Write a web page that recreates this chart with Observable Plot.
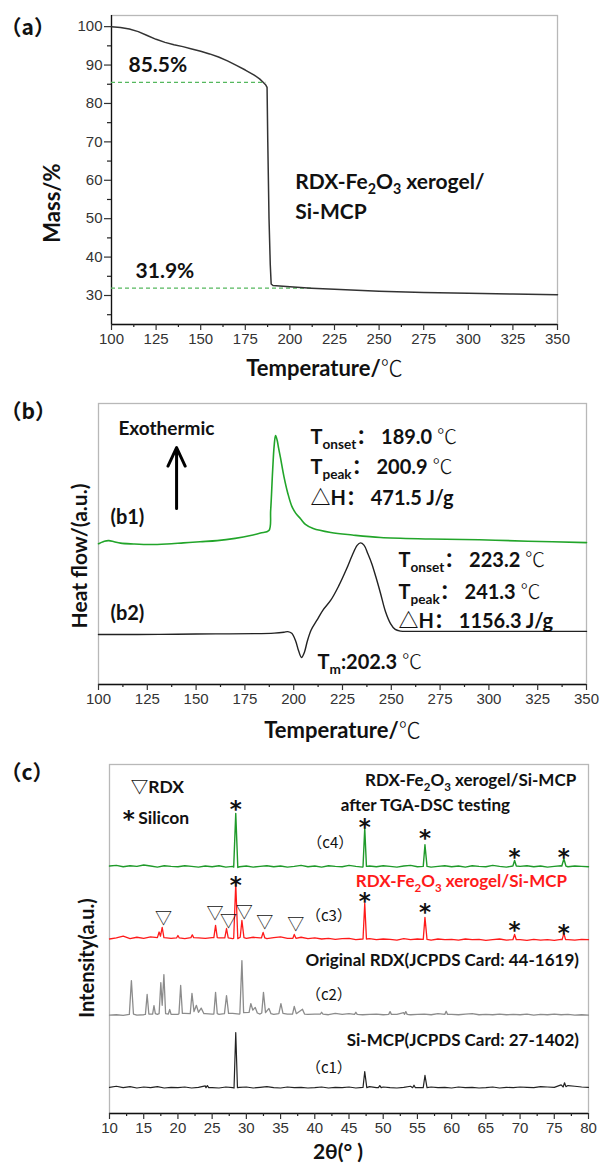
<!DOCTYPE html>
<html><head><meta charset="utf-8">
<script src="https://cdn.jsdelivr.net/npm/d3@7"></script>
<script src="https://cdn.jsdelivr.net/npm/@observablehq/plot@0.6"></script>
<style>
body{margin:0;background:#fff;}
#wrap{position:relative;width:601px;height:1165px;overflow:hidden;}
</style></head><body><div id="wrap"></div>
<script>
// ---------- shared ticks ----------
const tempTicks = [100,125,150,175,200,225,250,275,300,325,350];
const tempMinor = [112.5,137.5,162.5,187.5,212.5,237.5,262.5,287.5,312.5,337.5];
const massTicks = [30,40,50,60,70,80,90,100];
const massMinor = [25,35,45,55,65,75,85,95];
const thetaTicks = [10,15,20,25,30,35,40,45,50,55,60,65,70,75,80];
const thetaMinor = [12.5,17.5,22.5,27.5,32.5,37.5,42.5,47.5,52.5,57.5,62.5,67.5,72.5,77.5];

// ---------- panel (a) TGA ----------
const tgaT = [100,105,110,115,120,125,130,135,140,145,150,155,160,165,170,175,180,183,185,186.5,187.2,187.6,188.3,189.0,189.5,190.5,200,212,225,250,275,300,325,350];
const tgaMass = [100,99.8,99.4,98.7,97.7,96.7,95.9,95.3,94.8,94.2,93.6,92.9,92.1,91.1,89.9,88.7,87.4,86.4,85.5,84.8,84.2,70,50,38,33.0,32.6,32.3,31.9,31.6,31.1,30.8,30.6,30.4,30.2];
const dashLevels = [85.5, 31.9];
const dashEnds = [186.5, 212];
const dashLabelT = [109.5, 113.5];
const dashLabelM = [89.9, 36.2];
const aNoteText = ["RDX-Fe_{2}O_{3} xerogel/", "Si-MCP"];
const aNoteT = [203, 203];
const aNoteM = [59.4, 51.6];

// ---------- panel (b) DSC ----------
const greenT = [100,101,103,105.3,108,111.3,118,126.6,135,143.5,152,160.8,170,177.9,183,187.3,188.2,189.2,190.0,190.7,191.5,192.3,193.2,195,197,199,201,203.5,206,210,219,230,244.5,270,295,320,350];
const greenU = [50.1,50.4,51.0,51.2,50.8,50.3,50.0,49.8,50.0,50.4,50.8,51.2,52.0,53.0,53.9,54.8,62,76,85,88.6,87.0,84.0,80.8,74.0,68.0,63.5,61.0,59.0,57.0,55.5,54.1,53.2,52.3,51.8,51.5,51.0,50.5];
const blackT = [100,120,140,160,180,190,195,197,199,201,202.5,204,205.5,207,209,212,215,219,223,227,230,232.5,234.2,236,238,240,242,244.5,247,249.6,252,254.7,260,280,300,325,350];
const blackU = [17.8,17.8,17.9,18.0,18.1,18.3,18.6,18.8,18.2,15.5,12,9.6,11.5,15.5,19.5,23,26.5,30,35,41,46,49.5,50.4,49.6,46.5,43,38.5,32.4,26,21.7,19.6,19.0,18.9,18.9,18.9,18.9,18.9];
const bStatText = ["T_{onset}： 189.0 ℃","T_{peak}： 200.9 ℃","△H： 471.5 J/g","T_{onset}： 223.2 ℃","T_{peak}： 241.3 ℃","△H： 1156.3 J/g","T_{m}:202.3 ℃"];
const bStatT = [208.6,208.6,208.6,253.7,253.7,253.7,212.2];
const bStatU = [87.9,77.2,66.2,44.1,32.7,22.4,7.8];
const bCurveLabel = ["(b1)","(b2)"];
const bCurveLabelT = [106.1,106.1];
const bCurveLabelU = [59.4,25.3];
const arrowT = [140];
const arrowFrom = [62.6];
const arrowTo = [84.3];

// ---------- panel (c) XRD ----------
const c4Base = [70.9,71.1,70.7,71.0,70.8,71.2,70.9,70.6,71.0,70.8,
  70.7,71.0,70.8,70.6,70.9,70.7,71.0,70.6,70.8,70.7,
  70.9,70.6,70.8,71.0,70.7,70.9,70.6,70.8,71.1,70.7,
  70.9,70.6,71.0,70.8,70.7,71.1,70.8,70.6,70.9,70.7,
  71.0,70.8,70.6,70.9,71.1,70.7,70.9,70.6,70.8,71.0,
  70.7,70.9,70.6,71.0,70.8,70.7,71.1,70.8,70.6,70.9,
  70.8,71.0,70.7,70.9,70.6,70.8,71.0,70.7,70.9,70.8,70.7];
const c4Peaks = [
  [[28.15,70.6],[28.45,86.0],[28.75,70.5]],
  [[47.05,70.8],[47.3,81.7],[47.55,70.8]],
  [[55.85,70.8],[56.1,77.0],[56.4,70.8]],
  [[68.95,70.9],[69.2,72.5],[69.45,70.9]],
  [[76.1,70.9],[76.4,73.0],[76.7,70.9]]];
const c3Base = [50.0,50.3,50.8,50.1,50.5,50.2,50.6,50.9,50.4,50.2,
  50.7,50.1,50.9,50.3,50.2,50.4,50.3,50.2,50.1,50.4,
  50.2,50.5,50.3,50.1,50.4,50.6,50.2,50.3,50.5,50.1,
  50.3,50.0,50.2,49.9,50.1,50.2,49.8,50.0,50.1,49.8,
  50.0,49.9,49.7,50.1,49.8,50.0,49.9,49.7,50.0,49.8,
  49.9,49.7,50.0,49.8,49.9,49.6,49.8,50.0,49.7,49.9,
  49.8,49.6,49.9,49.7,49.8,49.6,49.9,49.8,49.7,49.9,49.8];
const c3Peaks = [
  [[17.0,50.4],[17.25,52.0],[17.45,50.8],[17.7,53.3],[17.95,50.4]],
  [[19.8,50.3],[20.0,51.0],[20.2,50.3]],
  [[21.9,50.4],[22.1,51.2],[22.3,50.4]],
  [[25.25,50.4],[25.5,53.9],[25.75,50.4]],
  [[26.85,50.3],[27.1,53.0],[27.35,50.3]],
  [[28.15,50.2],[28.45,65.9],[28.75,50.1],[29.1,50.5],[29.35,55.3],[29.65,50.4]],
  [[32.2,50.3],[32.45,51.9],[32.7,50.3]],
  [[36.8,50.2],[37.0,51.3],[37.25,50.2]],
  [[47.05,50.0],[47.3,60.2],[47.55,50.0]],
  [[55.85,49.9],[56.1,56.2],[56.4,49.9]],
  [[68.95,49.8],[69.2,51.3],[69.45,49.8]],
  [[76.15,49.8],[76.4,51.6],[76.65,49.8]]];
const c2Base = [28.2,28.3,28.1,28.4,28.2,28.3,28.5,28.4,28.6,28.3,
  28.4,28.7,28.5,28.9,28.6,28.5,28.4,28.6,28.7,28.5,
  28.4,28.6,28.5,28.7,28.4,28.6,28.5,28.6,28.8,28.4,
  28.5,28.9,28.3,28.7,28.4,28.6,28.9,28.3,28.4,28.5,
  28.3,28.8,28.4,28.9,28.3,28.4,28.5,28.3,28.6,29.0,
  28.4,28.3,28.5,28.6,28.3,28.4,28.3,28.5,28.3,28.4,
  28.3,28.5,28.2,28.4,28.3,28.5,28.3,28.4,28.2,28.3,28.2];
const c2Peaks = [
  [[12.9,28.4],[13.2,38.1],[13.5,28.5]],
  [[15.25,28.4],[15.5,34.1],[15.75,28.5]],
  [[16.3,28.5],[16.5,30.9],[16.7,28.6]],
  [[17.25,28.6],[17.5,37.5],[17.7,31.0],[17.95,39.8],[18.2,28.6]],
  [[18.6,28.5],[18.8,29.8],[19.0,28.4]],
  [[20.15,28.6],[20.4,36.7],[20.65,28.7]],
  [[21.8,28.6],[22.05,34.4],[22.35,29.2],[22.7,31.0],[23.0,29.0],[23.4,30.2],[23.8,28.6]],
  [[25.25,28.5],[25.5,34.7],[25.75,28.6]],
  [[26.8,28.6],[27.1,33.8],[27.4,28.7]],
  [[29.05,28.6],[29.35,43.8],[29.6,28.9],[30.4,29.0],[30.65,31.5],[30.95,29.6],[31.3,30.4],[31.6,28.8]],
  [[32.25,28.8],[32.5,34.7],[32.8,28.9],[33.3,30.1],[33.6,28.6]],
  [[34.75,28.6],[35.05,31.5],[35.35,28.7]],
  [[36.75,28.5],[37.0,30.7],[37.3,28.6],[38.2,29.9],[38.5,28.5]],
  [[40.8,28.5],[41.0,29.0],[41.2,28.5]],
  [[45.8,28.4],[46.0,29.0],[46.2,28.4]],
  [[50.8,28.4],[51.0,29.2],[51.2,28.4]],
  [[53.1,28.4],[53.3,29.2],[53.5,28.4]],
  [[59.0,28.4],[59.2,29.3],[59.4,28.4]]];
const c1Base = [7.5,7.8,7.4,7.7,7.3,7.6,7.4,7.7,7.3,7.5,
  7.4,7.6,7.3,7.5,7.9,7.4,7.3,7.6,7.4,7.5,
  7.6,7.3,7.5,7.7,7.4,7.3,7.6,7.4,7.5,7.3,
  7.4,7.6,7.3,7.5,7.4,7.6,7.3,7.5,7.7,7.4,
  7.6,7.4,7.3,7.5,7.8,7.4,7.3,7.6,7.4,7.5,
  7.3,7.6,7.4,7.5,7.3,7.4,7.6,7.3,7.5,7.4,
  7.6,7.5,7.4,7.7,7.6,7.5,8.2,8.0,7.8,7.6,7.5];
const c1Peaks = [
  [[24.1,7.4],[24.3,8.0],[24.5,7.4]],
  [[28.2,7.3],[28.45,23.2],[28.7,7.4]],
  [[47.05,7.5],[47.3,12.0],[47.6,7.4]],
  [[49.3,7.4],[49.5,8.0],[49.7,7.4]],
  [[54.3,7.4],[54.5,8.1],[54.7,7.4]],
  [[55.85,7.4],[56.1,10.9],[56.4,7.4]],
  [[76.3,7.6],[76.5,8.8],[76.7,7.7]]];
const siPeakTheta = [28.45,47.3,56.1,69.2,76.4];
const starGreenU = [88.8,83.5,80.6,74.9,74.9];
const starRedU = [67.0,62.5,59.3,54.2,53.4];
const triTheta = [17.9,25.4,27.4,29.7,32.7,37.2];
const triU = [55.9,57.3,55.0,57.6,54.7,54.2];
const cLabelText = ["RDX-Fe_{2}O_{3} xerogel/Si-MCP","Original RDX(JCPDS Card: 44-1619)","Si-MCP(JCPDS Card: 27-1402)"];
const cLabelTheta = [78.2,78.6,78.6];
const cLabelU = [95.3,43.8,20.9];
const cTagText = ["（c4）","（c3）","（c2）","（c1）"];
const cTagTheta = [38.9,38.7,38.7,38.7];
const cTagU = [77.4,56.4,33.8,12.9];

// ---------- helpers ----------
const TF = "'Liberation Sans', Arial, sans-serif";
const BF = "Lato, 'Noto Sans CJK SC', sans-serif";
const CJ = "'Noto Sans CJK SC', sans-serif";
const thetaGrid = d3.range(10, 81);
const zip = (xs, ys, k) => xs.map((x, i) => ({x, y: ys[i], t: k ? k[i] : null}));
function buildTrace(base, groups) {
  const pts = [];
  thetaGrid.forEach((t, i) => {
    if (!groups.some(g => t >= g[0][0] && t <= g[g.length - 1][0])) pts.push({x: t, y: base[i]});
  });
  groups.forEach(g => g.forEach(([t, u]) => pts.push({x: t, y: u})));
  return pts.sort((a, b) => a.x - b.x);
}
function bottomAxis(major, minor) {
  return [
    Plot.axisX({ticks: major, tickSize: 6, tickPadding: 3, fontSize: 15, fontFamily: TF, color: "#333", strokeWidth: 1.2}),
    Plot.axisX({ticks: minor, tickSize: 3, tickFormat: () => "", strokeWidth: 1.2})
  ];
}
// rich text: _{sub} -> subscript tspan, ℃ -> thin CJK glyph
function richify(root) {
  root.querySelectorAll("text").forEach(t => {
    if (t.children.length) return;
    const s = t.textContent;
    if (!s.includes("_{") && !s.includes("℃")) return;
    const parts = s.split(/(_\{[^}]*\}|℃)/);
    t.textContent = "";
    let shifted = false;
    parts.forEach(p => {
      if (!p) return;
      const ts = document.createElementNS("http://www.w3.org/2000/svg", "tspan");
      if (p.startsWith("_{")) {
        ts.textContent = p.slice(2, -1);
        ts.setAttribute("font-size", "0.68em");
        ts.setAttribute("dy", "5");
        shifted = true;
      } else {
        ts.textContent = p;
        if (p === "℃") { ts.setAttribute("font-family", CJ); ts.setAttribute("font-weight", "300"); }
        if (shifted) { ts.setAttribute("dy", "-5"); shifted = false; }
      }
      t.appendChild(ts);
    });
  });
}
const wrap = document.getElementById("wrap");
function place(svg, top) {
  svg.style.position = "absolute";
  svg.style.left = "0px";
  svg.style.top = top + "px";
  richify(svg);
  wrap.appendChild(svg);
}
const baseStyle = {fontFamily: TF, fontSize: "15px", color: "#222", background: "transparent", overflow: "visible"};
const titleX = {textAnchor: "middle", lineAnchor: "middle", fontFamily: BF, fontWeight: "bold", fontSize: 22, fill: "#111"};
const titleY = {textAnchor: "middle", lineAnchor: "middle", rotate: -90, fontFamily: BF, fontWeight: "bold", fontSize: 21, fill: "#111"};
const panelTag = {textAnchor: "start", lineAnchor: "middle", fontFamily: CJ, fontWeight: "bold", fontSize: 21, fill: "#111"};
const starStyle = {dy: 6, fontFamily: "'DejaVu Sans', sans-serif", fontWeight: "bold", fontSize: 23, fill: "#111"};

// ---------- plot (a) ----------
const tga = tgaT.map((t, i) => ({x: t, y: tgaMass[i]}));
const plotA = Plot.plot({
  width: 601, height: 380, marginTop: 15, marginBottom: 56, marginLeft: 111, marginRight: 44,
  x: {domain: [100, 350], label: null},
  y: {domain: [22.45, 102.9], label: null},
  style: baseStyle,
  marks: [
    Plot.frame({stroke: "#b8b8b8", strokeWidth: 1.3}),
    Plot.ruleX([100], {stroke: "#111", strokeWidth: 1.3}),
    Plot.ruleY([22.45], {stroke: "#111", strokeWidth: 1.3}),
    Plot.axisY({ticks: massTicks, tickSize: 7, tickPadding: 2, fontSize: 15, fontFamily: TF, color: "#333", strokeWidth: 1.2}),
    Plot.axisY({ticks: massMinor, tickSize: 4, tickFormat: () => "", strokeWidth: 1.2}),
    ...bottomAxis(tempTicks, tempMinor),
    Plot.ruleY(dashLevels, {y: d => d, x1: 100, x2: (d, i) => dashEnds[i], stroke: "#55b85e", strokeWidth: 1.2, strokeDasharray: "4,3"}),
    Plot.line(tga, {x: "x", y: "y", stroke: "#333", strokeWidth: 1.5}),
    Plot.text(dashLevels, {x: (d, i) => dashLabelT[i], y: (d, i) => dashLabelM[i], text: d => d + "%", textAnchor: "start", fontFamily: BF, fontWeight: "bold", fontSize: 21, fill: "#111"}),
    Plot.text(zip(aNoteT, aNoteM, aNoteText), {x: "x", y: "y", text: "t", textAnchor: "start", fontFamily: BF, fontWeight: "bold", fontSize: 21, fill: "#111"}),
    Plot.text(["Temperature/℃"], {...titleX, frameAnchor: "bottom", dy: 44, dx: -10}),
    Plot.text(["Mass/%"], {...titleY, frameAnchor: "left", dx: -59, dy: 33, fontSize: 22}),
    Plot.text(["（a）"], {...panelTag, frameAnchor: "top-left", dx: -111, dy: 13})
  ]
});
place(plotA, 0);

// ---------- plot (b) ----------
const green = greenT.map((t, i) => ({x: t, y: greenU[i]}));
const black = blackT.map((t, i) => ({x: t, y: blackU[i]}));
const plotB = Plot.plot({
  width: 601, height: 380, marginTop: 23, marginBottom: 76, marginLeft: 98, marginRight: 15,
  x: {domain: [100, 350], label: null},
  y: {domain: [0, 100], label: null, axis: null},
  style: baseStyle,
  marks: [
    Plot.frame({stroke: "#b8b8b8", strokeWidth: 1.3}),
    Plot.ruleY([0], {stroke: "#111", strokeWidth: 1.3}),
    ...bottomAxis(tempTicks, tempMinor),
    Plot.line(green, {x: "x", y: "y", stroke: "#22a52a", strokeWidth: 1.6, curve: "catmull-rom"}),
    Plot.line(black, {x: "x", y: "y", stroke: "#222", strokeWidth: 1.4, curve: "catmull-rom"}),
    Plot.arrow(arrowT, {x1: d => d, x2: d => d, y1: (d, i) => arrowFrom[i], y2: (d, i) => arrowTo[i], stroke: "#000", strokeWidth: 3, headLength: 16, headAngle: 50}),
    Plot.text(["Exothermic"], {x: [110.2], y: [91.1], textAnchor: "start", fontFamily: BF, fontWeight: "bold", fontSize: 19, fill: "#111"}),
    Plot.text(zip(bCurveLabelT, bCurveLabelU, bCurveLabel), {x: "x", y: "y", text: "t", textAnchor: "start", fontFamily: BF, fontWeight: "bold", fontSize: 20, fill: "#111"}),
    Plot.text(zip(bStatT, bStatU, bStatText), {x: "x", y: "y", text: "t", textAnchor: "start", fontFamily: BF, fontWeight: "bold", fontSize: 20, fill: "#111"}),
    Plot.text(["Temperature/℃"], {...titleX, frameAnchor: "bottom", dy: 46}),
    Plot.text(["Heat flow/(a.u.)"], {...titleY, frameAnchor: "left", dx: -18, dy: 12}),
    Plot.text(["（b）"], {...panelTag, frameAnchor: "top-left", dx: -98, dy: 9})
  ]
});
place(plotB, 380);

// ---------- plot (c) ----------
const tr4 = buildTrace(c4Base, c4Peaks);
const tr3 = buildTrace(c3Base, c3Peaks);
const tr2 = buildTrace(c2Base, c2Peaks);
const tr1 = buildTrace(c1Base, c1Peaks);
const plotC = Plot.plot({
  width: 601, height: 405, marginTop: 4, marginBottom: 52, marginLeft: 109, marginRight: 13,
  x: {domain: [10, 80], label: null},
  y: {domain: [0, 100], label: null, axis: null},
  style: baseStyle,
  marks: [
    Plot.frame({stroke: "#b8b8b8", strokeWidth: 1.3}),
    Plot.ruleY([0], {stroke: "#111", strokeWidth: 1.3}),
    ...bottomAxis(thetaTicks, thetaMinor),
    Plot.line(tr1, {x: "x", y: "y", stroke: "#222", strokeWidth: 1.2}),
    Plot.line(tr2, {x: "x", y: "y", stroke: "#8c8c8c", strokeWidth: 1.3}),
    Plot.line(tr3, {x: "x", y: "y", stroke: "#ff1a1a", strokeWidth: 1.3}),
    Plot.line(tr4, {x: "x", y: "y", stroke: "#1f9a2a", strokeWidth: 1.4}),
    Plot.text(siPeakTheta, {...starStyle, x: d => d, y: (d, i) => starGreenU[i], text: () => "*"}),
    Plot.text(siPeakTheta, {...starStyle, x: d => d, y: (d, i) => starRedU[i], text: () => "*"}),
    Plot.text(triTheta, {x: d => d, y: (d, i) => triU[i], text: () => "▽", fontFamily: CJ, fontSize: 17, fill: "#111"}),
    Plot.text(zip(cLabelTheta, cLabelU, cLabelText), {x: "x", y: "y", text: "t", textAnchor: "end", fontFamily: BF, fontWeight: "bold", fontSize: 17, fill: "#111"}),
    Plot.text(["after TGA-DSC testing"], {x: [43.8], y: [88.3], textAnchor: "start", fontFamily: BF, fontWeight: "bold", fontSize: 17, fill: "#111"}),
    Plot.text(["RDX-Fe_{2}O_{3} xerogel/Si-MCP"], {x: [46.0], y: [66.6], textAnchor: "start", fontFamily: BF, fontWeight: "bold", fontSize: 17, fill: "#ff1a1a"}),
    Plot.text(zip(cTagTheta, cTagU, cTagText), {x: "x", y: "y", text: "t", textAnchor: "start", fontFamily: CJ, fontSize: 15, fill: "#111"}),
    Plot.text(["▽RDX"], {x: [13.1], y: [93.4], textAnchor: "start", fontFamily: BF, fontWeight: "bold", fontSize: 17.5, fill: "#111"}),
    Plot.text(["*"], {...starStyle, x: [12.8], y: [85.9]}),
    Plot.text(["Silicon"], {x: [14.2], y: [84.5], textAnchor: "start", fontFamily: BF, fontWeight: "bold", fontSize: 17.5, fill: "#111"}),
    Plot.text(["2θ(° )"], {...titleX, frameAnchor: "bottom", dy: 39, dx: -11, fontSize: 21}),
    Plot.text(["Intensity(a.u.)"], {...titleY, frameAnchor: "left", dx: -22, dy: 19, fontSize: 20}),
    Plot.text(["（c）"], {...panelTag, frameAnchor: "top-left", dx: -109, dy: 9})
  ]
});
place(plotC, 760);
</script></body></html>
